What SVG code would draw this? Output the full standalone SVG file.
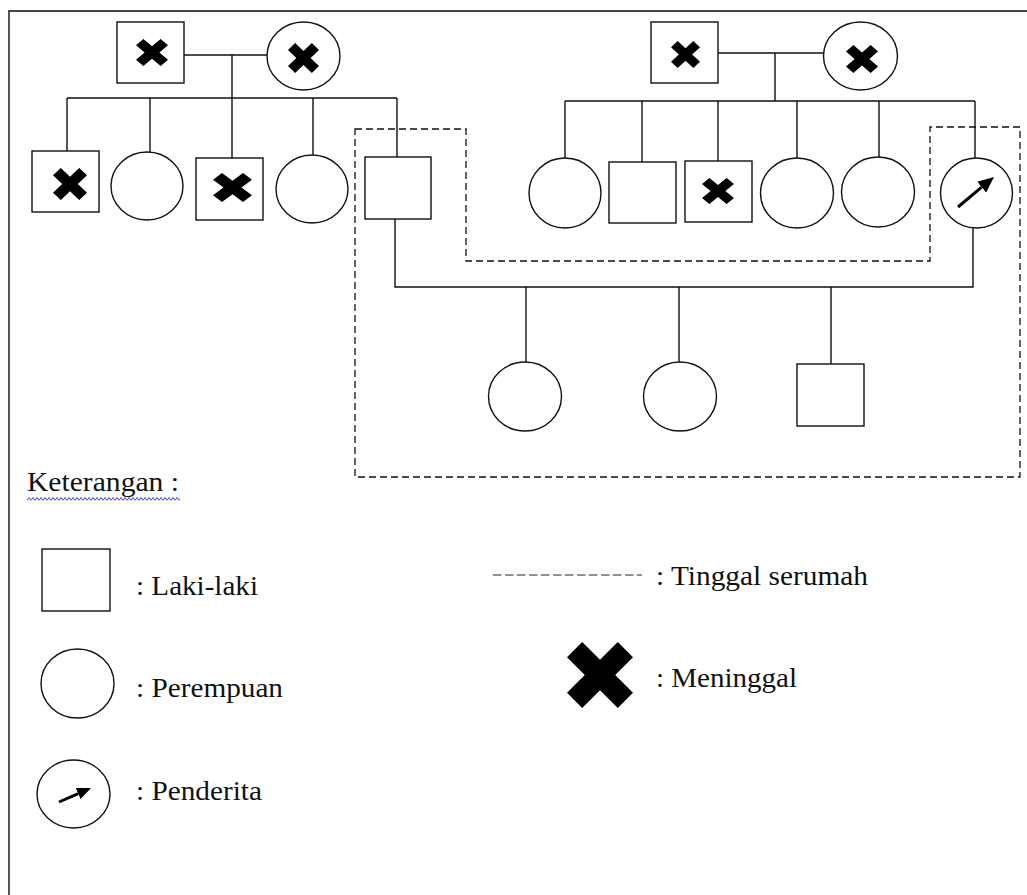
<svg xmlns="http://www.w3.org/2000/svg" xmlns:xlink="http://www.w3.org/1999/xlink" width="1027" height="895" viewBox="0 0 1027 895">
<style>
.s{fill:#fff;stroke:#111;stroke-width:1.4}
.c{fill:none;stroke:#111;stroke-width:1.4}
.d{fill:none;stroke:#111;stroke-width:1.3;stroke-dasharray:7 4}
.a{stroke:#000;stroke-width:3}
.t{font-family:"Liberation Serif","Times New Roman",serif;font-size:27px;fill:#111}
</style>
<defs>
<symbol id="x" viewBox="-100 -100 200 200" preserveAspectRatio="none">
<polygon fill="#000" points="0,-46 54,-100 100,-54 46,0 100,54 54,100 0,46 -54,100 -100,54 -46,0 -100,-54 -54,-100"/>
</symbol>
<marker id="ah" markerUnits="userSpaceOnUse" markerWidth="18" markerHeight="16" viewBox="0 -8 18 16" refX="0" refY="0" orient="auto">
<path d="M0,-7 L16,0 L0,7 z" fill="#000"/>
</marker>
<marker id="ah2" markerUnits="userSpaceOnUse" markerWidth="16" markerHeight="14" viewBox="0 -7 16 14" refX="0" refY="0" orient="auto">
<path d="M0,-6 L14,0 L0,6 z" fill="#000"/>
</marker>
<pattern id="wave" patternUnits="userSpaceOnUse" x="27" y="497" width="4" height="4">
<path d="M0,3.5 L2,0.5 L4,3.5" fill="none" stroke="#2a2aff" stroke-width="0.9"/>
</pattern>
</defs>
<rect width="1027" height="895" fill="#fff"/>
<path d="M9,895 V11 H1027" fill="none" stroke="#444" stroke-width="1.8"/>

<g id="connectors">
<path class="c" d="M184,55 H267 M232,55 V98 M67,98 H397 M67,98 V151 M150,98 V152 M232,98 V158 M313,98 V155 M397,98 V157"/>
<path class="c" d="M718,53 H824 M775,53 V101 M565,101 H975 M565,101 V158 M642,101 V162 M718,101 V161 M797,101 V158 M879,101 V157 M975,101 V158"/>
<path class="c" d="M395,219 V287 H973 V228 M526,287 V362 M679,287 V362 M831,287 V364"/>
<path class="d" d="M355,129 H466 V261 H930 V127 H1020 V477 H355 Z"/>
</g>

<g id="gf1"><rect class="s" x="117" y="22" width="67" height="61"/><use href="#x" x="136" y="39" width="32" height="27"/></g>
<g id="gm1"><ellipse class="s" cx="303.5" cy="56" rx="36.5" ry="34"/><use href="#x" x="288" y="43" width="31" height="30"/></g>
<g id="gf2"><rect class="s" x="651" y="22" width="67" height="61"/><use href="#x" x="671" y="41" width="29" height="27"/></g>
<g id="gm2"><ellipse class="s" cx="860.5" cy="56" rx="37" ry="34"/><use href="#x" x="846" y="45" width="32" height="28"/></g>

<g id="c1"><rect class="s" x="32" y="151" width="67" height="61"/><use href="#x" x="53" y="168" width="34" height="32"/></g>
<g id="c2"><ellipse class="s" cx="147" cy="186" rx="36" ry="34"/></g>
<g id="c3"><rect class="s" x="196" y="158" width="67" height="62"/><use href="#x" x="213" y="173" width="39" height="29"/></g>
<g id="c4"><ellipse class="s" cx="312" cy="189" rx="36" ry="34"/></g>
<g id="c5"><rect class="s" x="365" y="157" width="66" height="62"/></g>

<g id="d1"><ellipse class="s" cx="565" cy="193" rx="36" ry="35"/></g>
<g id="d2"><rect class="s" x="609" y="162" width="67" height="61"/></g>
<g id="d3"><rect class="s" x="685" y="161" width="67" height="61"/><use href="#x" x="702" y="178" width="32" height="26"/></g>
<g id="d4"><ellipse class="s" cx="797" cy="193" rx="36.5" ry="35"/></g>
<g id="d5"><ellipse class="s" cx="878" cy="192" rx="36.5" ry="35"/></g>
<g id="d6"><ellipse class="s" cx="976.5" cy="193" rx="36" ry="35"/><line class="a" x1="958" y1="207" x2="981.7" y2="187.2" marker-end="url(#ah)"/></g>

<g id="e1"><ellipse class="s" cx="525" cy="396.5" rx="36.5" ry="34.5"/></g>
<g id="e2"><ellipse class="s" cx="680" cy="396.5" rx="36.5" ry="34.5"/></g>
<g id="e3"><rect class="s" x="797" y="364" width="67" height="62"/></g>

<g id="legend">
<text class="t" x="27" y="491" textLength="152" lengthAdjust="spacingAndGlyphs">Keterangan :</text>
<rect x="27" y="497" width="153" height="4" fill="url(#wave)"/>
<rect class="s" x="42" y="549" width="68" height="62"/>
<text class="t" x="136" y="595" textLength="122" lengthAdjust="spacingAndGlyphs">: Laki-laki</text>
<ellipse class="s" cx="77.5" cy="683.5" rx="36.5" ry="34.5"/>
<text class="t" x="136" y="697" textLength="147" lengthAdjust="spacingAndGlyphs">: Perempuan</text>
<ellipse class="s" cx="73.5" cy="794" rx="36.5" ry="34"/>
<line class="a" x1="59" y1="802" x2="78.2" y2="793.6" marker-end="url(#ah2)"/>
<text class="t" x="136" y="800" textLength="126" lengthAdjust="spacingAndGlyphs">: Penderita</text>
<line x1="493" y1="575" x2="642" y2="575" stroke="#222" stroke-width="1.2" stroke-dasharray="8.5 3.5"/>
<text class="t" x="656" y="585" textLength="212" lengthAdjust="spacingAndGlyphs">: Tinggal serumah</text>
<use href="#x" x="567" y="642" width="66" height="66"/>
<text class="t" x="656" y="687" textLength="141" lengthAdjust="spacingAndGlyphs">: Meninggal</text>
</g>
</svg>
